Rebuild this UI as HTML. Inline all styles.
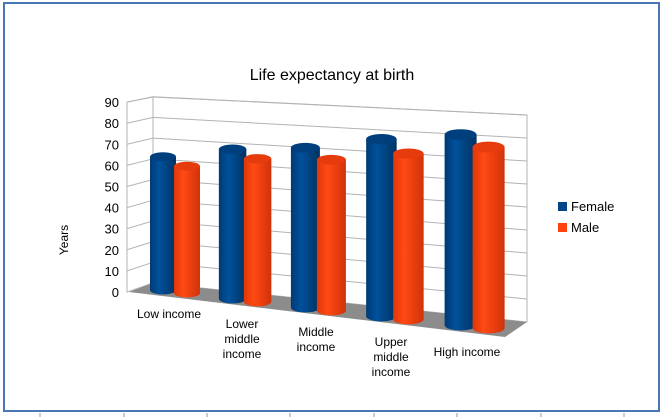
<!DOCTYPE html>
<html><head><meta charset="utf-8"><style>
body{margin:0;background:#fff;}
svg{display:block;font-family:"Liberation Sans",sans-serif;}
</style></head><body>
<svg width="663" height="419" viewBox="0 0 663 419">
<defs>
<linearGradient id="gb" x1="0" x2="1" y1="0" y2="0">
<stop offset="0" stop-color="#003a73"/><stop offset="0.35" stop-color="#00519c"/><stop offset="1" stop-color="#00325f"/></linearGradient>
<linearGradient id="go" x1="0" x2="1" y1="0" y2="0">
<stop offset="0" stop-color="#e0360a"/><stop offset="0.35" stop-color="#ff4a14"/><stop offset="1" stop-color="#d1320a"/></linearGradient>
</defs>
<rect x="4" y="3" width="655" height="408" fill="#fff" stroke="#4a78b5" stroke-width="2"/>
<g id="ticks" stroke="#999" stroke-width="1"></g>
<text x="332" y="80" font-size="16" text-anchor="middle" fill="#000">Life expectancy at birth</text>
<text transform="translate(68,240) rotate(-90)" font-size="12" text-anchor="middle">Years</text>
<g id="walls"></g>
<g id="yticks" font-size="13" text-anchor="end"></g>
<g id="bars"></g>
<g id="xlabels" font-size="12" text-anchor="middle"></g>
<g>
<rect x="558" y="202" width="9" height="9" fill="#004586"/>
<text x="571" y="211" font-size="13">Female</text>
<rect x="558" y="223" width="9" height="9" fill="#ff420e"/>
<text x="571" y="232" font-size="13">Male</text>
</g>
</svg>
<script>
const categories=[["Low income"],["Lower","middle","income"],["Middle","income"],["Upper","middle","income"],["High income"]];
const female=[62,68,71,77,81];
const male=[59,65,67,72,77];
const yTicks=[0,10,20,30,40,50,60,70,80,90];
const NS="http://www.w3.org/2000/svg";
function mk(t,a,p){const e=document.createElementNS(NS,t);for(const k in a)e.setAttribute(k,a[k]);p.appendChild(e);return e;}
const tk=document.getElementById('ticks');
[40,124,207,290,374,457,541,624].forEach(x=>{mk('line',{x1:x,y1:413,x2:x,y2:417},tk);});
const W=document.getElementById('walls');
const wl=mk('polygon',{points:"127,102 153,97 153,283 127,292",fill:"#fff",stroke:"#b3b3b3"},W);

const wb=mk('polygon',{points:"153,97 527,115 527,322 153,283",fill:"#fff",stroke:"#b3b3b3"},W);

const fl=mk('polygon',{points:"129,292 153,283 527,322 505,337",fill:"#8c8c8c"},W);

const YT=document.getElementById('yticks');
function backL(v){return 283-v*2.07;} function backR(v){return 322-v*2.3;} function front(v){return 292-v*2.11;}
yTicks.forEach(v=>{
 if(v>0){
 const g1=mk('line',{x1:127,y1:front(v),x2:153,y2:backL(v),stroke:"#b3b3b3"},W);
 
 const g2=mk('line',{x1:153,y1:backL(v),x2:527,y2:backR(v),stroke:"#b3b3b3"},W);
 }
 const t=mk('text',{x:119,y:front(v)+5},YT);t.textContent=v;
 
});
const B=document.getElementById('bars');
function cyl(cx,by,w,h,fill,top,name){
 const g=mk('g',{},B);
 
 const ry=w*0.17;
 mk('ellipse',{cx:cx,cy:by,rx:w/2,ry:ry,fill:fill},g);
 mk('rect',{x:cx-w/2,y:by-h,width:w,height:h,fill:fill},g);
 mk('ellipse',{cx:cx,cy:by-h,rx:w/2,ry:ry,fill:top},g);
}
const XL=document.getElementById('xlabels');
const labelPos=[[169,318],[242,328],[316,336],[391,346],[467,356]];
categories.forEach((c,i)=>{
 const bx=163+68*i+1.6*i*i, by=290+8.75*i, s=2.15+0.05*i, w=26+1.5*i;
 cyl(bx,by,w,female[i]*s,"url(#gb)","#003f7d","bar-female-"+i);
 cyl(bx+24+1*i,by+3,w,male[i]*s,"url(#go)","#e63b0c","bar-male-"+i);
 const t=mk('text',{x:labelPos[i][0],y:labelPos[i][1]},XL);
 
 c.forEach((ln,j)=>{const sp=mk('tspan',{x:labelPos[i][0],dy:j?15:0},t);sp.textContent=ln;});
});
</script>
</body></html>
